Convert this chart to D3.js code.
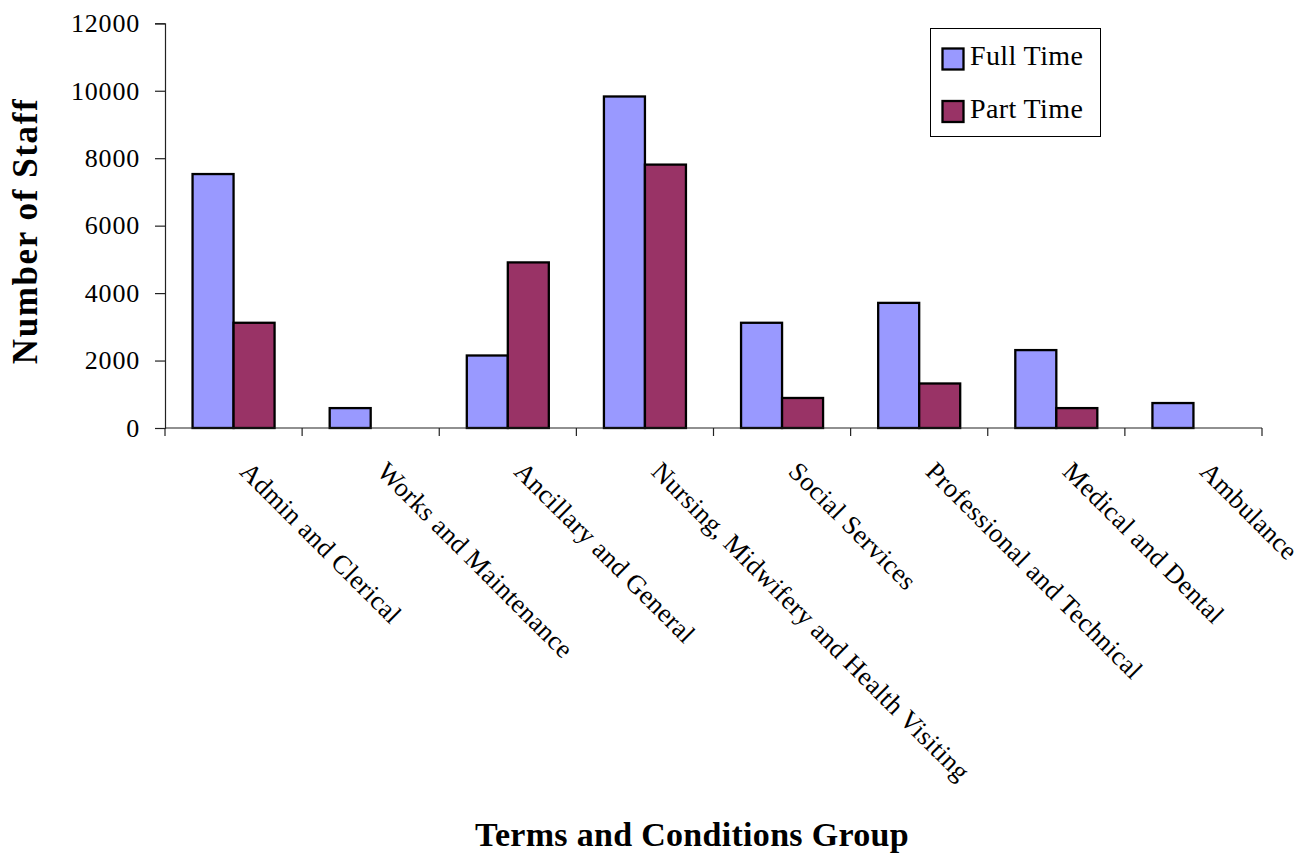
<!DOCTYPE html>
<html>
<head>
<meta charset="utf-8">
<script src="https://cdn.jsdelivr.net/npm/d3@7"></script>
<style>
  html, body { margin: 0; padding: 0; background: #fff; }
  svg { display: block; }
  text { font-family: "Liberation Serif", "Times New Roman", serif; fill: #000; }
</style>
</head>
<body>
<svg id="chart" width="1313" height="854"></svg>
<script>
const categories = ["Admin and Clerical", "Works and Maintenance", "Ancillary and General",
  "Nursing, Midwifery and Health Visiting", "Social Services", "Professional and Technical",
  "Medical and Dental", "Ambulance"];
const seriesNames = ["Full Time", "Part Time"];
const fullTime = [7530, 590, 2150, 9830, 3120, 3710, 2310, 740];
const partTime = [3120, 0, 4910, 7810, 890, 1320, 590, 0];
const yTicks = [0, 2000, 4000, 6000, 8000, 10000, 12000];
const colors = ["#9999FF", "#993366"];
const yTitle = "Number of Staff";
const xTitle = "Terms and Conditions Group";

const svg = d3.select("#chart");
const plotLeft = 165, plotRight = 1262, plotTop = 23.3, plotBottom = 428;

const x0 = d3.scaleBand().domain(categories).range([plotLeft, plotRight]).padding(0);
const x1 = d3.scaleBand().domain(seriesNames).range([0, x0.bandwidth()])
  .paddingInner(0).paddingOuter(0.672);
const y = d3.scaleLinear().domain([0, 12000]).range([plotBottom, plotTop]);
const color = d3.scaleOrdinal().domain(seriesNames).range(colors);

const rows = categories.map((c, i) => ({ cat: c, values: [
  { key: seriesNames[0], value: fullTime[i] },
  { key: seriesNames[1], value: partTime[i] }
]}));

// Bars
const groups = svg.append("g").selectAll("g").data(rows).join("g")
  .attr("transform", d => `translate(${x0(d.cat)},0)`);
groups.selectAll("rect").data(d => d.values.filter(v => v.value > 0)).join("rect")
  .attr("x", d => x1(d.key))
  .attr("y", d => y(d.value))
  .attr("width", x1.bandwidth())
  .attr("height", d => y(0) - y(d.value))
  .attr("fill", d => color(d.key))
  .attr("stroke", "#000")
  .attr("stroke-width", 2.3);

// Y axis
const yAxis = d3.axisLeft(y).tickValues(yTicks).tickSize(10).tickPadding(15)
  .tickFormat(d3.format("d"));
const gy = svg.append("g").attr("transform", `translate(${plotLeft},0)`).call(yAxis);
gy.select(".domain").attr("stroke", "#222").attr("stroke-width", 1.2);
gy.selectAll(".tick line").attr("stroke", "#222").attr("stroke-width", 1.2);
gy.selectAll(".tick text").style("font-family", "'Liberation Serif', serif")
  .style("font-size", "26px").style("letter-spacing", "0.8px").attr("fill", "#000");

// X axis line with ticks at band boundaries
const gx = svg.append("g");
gx.append("line").attr("x1", plotLeft).attr("x2", plotRight).attr("y1", y(0)).attr("y2", y(0))
  .attr("stroke", "#222").attr("stroke-width", 1.2);
const bounds = categories.map(c => x0(c)).concat([x0(categories[categories.length - 1]) + x0.bandwidth()]);
gx.selectAll("line.tk").data(bounds).join("line").attr("class", "tk")
  .attr("x1", d => d).attr("x2", d => d).attr("y1", y(0)).attr("y2", y(0) + 8)
  .attr("stroke", "#222").attr("stroke-width", 1.2);

// Category labels rotated
gx.selectAll("text.cat").data(categories).join("text").attr("class", "cat")
  .attr("transform", d => `translate(${x0(d) + x0.bandwidth() / 2 + 5},${y(0) + 45}) rotate(45)`)
  .attr("text-anchor", "start")
  .style("font-size", "26.5px").style("letter-spacing", "0.35px")
  .text(d => d);

// Axis titles
svg.append("text")
  .attr("transform", "translate(37,231) rotate(-90)")
  .attr("text-anchor", "middle")
  .style("font-size", "35px").style("font-weight", "bold").style("letter-spacing", "1.6px")
  .text(yTitle);
svg.append("text")
  .attr("x", 692).attr("y", 846)
  .attr("text-anchor", "middle")
  .style("font-size", "34px").style("font-weight", "bold").style("letter-spacing", "0.3px")
  .text(xTitle);

// Legend
const lg = svg.append("g");
lg.append("rect").attr("x", 930.5).attr("y", 28.5).attr("width", 170).attr("height", 108)
  .attr("fill", "#fff").attr("stroke", "#000").attr("stroke-width", 1);
const items = lg.selectAll("g.item").data(seriesNames).join("g").attr("class", "item")
  .attr("transform", (d, i) => `translate(0,${i * 52.5})`);
items.append("rect").attr("x", 942.5).attr("y", 48.5).attr("width", 21).attr("height", 21)
  .attr("fill", d => color(d)).attr("stroke", "#000").attr("stroke-width", 2.3);
items.append("text").attr("x", 970).attr("y", 65)
  .style("font-size", "28px").style("letter-spacing", "0.4px").text(d => d);
</script>
</body>
</html>
